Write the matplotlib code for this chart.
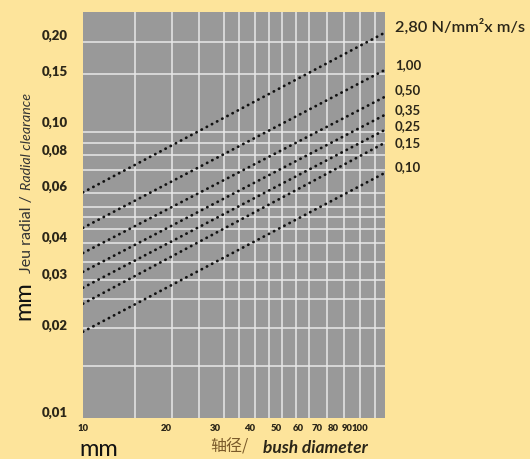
import matplotlib
matplotlib.use("Agg")
import matplotlib.pyplot as plt

# diameter (mm) at the two ends of each line
diam_ends = [10, 123]

# radial clearance (mm) read at each end, one pair per pv value
pv_labels = ["2,80 N/mm²x m/s", "1,00", "0,50", "0,35", "0,25", "0,15", "0,10"]
clear_left = [0.0571, 0.0431, 0.0353, 0.0304, 0.0268, 0.0236, 0.0189]
clear_right = [0.203, 0.151, 0.122, 0.1057, 0.0938, 0.0847, 0.0667]

# axis ticks
x_ticks = [10, 20, 30, 40, 50, 60, 70, 80, 90, 100]
x_ticklabels = ["10", "20", "30", "40", "50", "60", "70", "80", "90", "100"]
y_ticks = [0.01, 0.02, 0.03, 0.04, 0.06, 0.08, 0.10, 0.15, 0.20]
y_ticklabels = ["0,01", "0,02", "0,03", "0,04", "0,06", "0,08", "0,10", "0,15", "0,20"]

# white grid lines as drawn in the chart (not on the tick values)
x_grid = [15.4, 21.0, 26.3, 32.2, 36.7, 41.7, 46.8, 52.2, 58.6, 65.3, 75.9, 87.5, 100, 113.3]
y_grid = [0.0144, 0.0195, 0.0245, 0.0285, 0.0329, 0.0383, 0.0428, 0.0470, 0.0509,
          0.0569, 0.0683, 0.0769, 0.0846, 0.0924, 0.1464, 0.1888]

bg = "#fde49b"
panel = "#999999"
ink = "#2b2618"

plt.rcParams['font.family'] = ['Lato', 'DejaVu Sans']

W, H = 530, 459
fig = plt.figure(figsize=(W / 100, H / 100), dpi=100, facecolor=bg)
ax = fig.add_axes([83 / W, (H - 418) / H, (385 - 83) / W, (418 - 12) / H])
ax.set_facecolor(panel)
ax.set_xscale("log")
ax.set_yscale("log")
ax.set_xlim(10, 123)
ax.set_ylim(0.00953, 0.239)

for gx in x_grid:
    ax.axvline(gx, color="#e8e8e8", lw=1.1, zorder=1)
for gy in y_grid:
    ax.axhline(gy, color="#e8e8e8", lw=1.1, zorder=1)

for lo, hi in zip(clear_left, clear_right):
    ax.plot(diam_ends, [lo, hi], color="#111111", lw=2.0,
            linestyle=(0, (0.1, 2.0)), dash_capstyle="round", zorder=3)

ax.minorticks_off()
ax.set_xticks(x_ticks)
ax.set_xticklabels(x_ticklabels, fontsize=6.8, fontweight="heavy", color=ink)
ax.set_yticks(y_ticks)
ax.set_yticklabels(y_ticklabels, fontsize=9.5, fontweight="heavy", color=ink)
ax.tick_params(axis="x", length=0, pad=4)
ax.tick_params(axis="y", length=0, pad=11)
for s in ax.spines.values():
    s.set_visible(False)

# line labels on the right
label_y = [27, 65, 90, 110, 126, 143, 167]
for i, (txt, py) in enumerate(zip(pv_labels, label_y)):
    fig.text(395 / W, 1 - py / H, txt, ha="left", va="center",
             fontsize=11.8 if i == 0 else 9.5, fontweight="semibold" if i == 0 else "bold",
             color=ink)

# y axis title
fig.text(31 / W, 1 - 273 / H, "Jeu radial / ", rotation=90, rotation_mode="anchor",
         ha="left", va="baseline", fontsize=11.5, color="#333333")
fig.text(31 / W, 1 - 190 / H, "Radial clearance", rotation=90, rotation_mode="anchor",
         ha="left", va="baseline", fontsize=10.3, color="#333333", style="italic")
fig.text(24 / W, 1 - 301 / H, "mm", rotation=90, ha="center", va="center",
         fontsize=17, color="#111111")

# x axis title
fig.text(99 / W, 1 - 450 / H, "mm", ha="center", va="center", fontsize=17, color="#111111")
fig.text(229 / W, 1 - 447 / H, "轴径/", ha="center", va="center", fontsize=11.5,
         color="#7a5a2a", family=['Noto Sans CJK SC', 'DejaVu Sans'])
fig.text(263 / W, 1 - 448 / H, "bush diameter", ha="left", va="center", fontsize=12.5,
         color=ink, style="italic", fontweight="bold")

fig.savefig("out.png", dpi=100, facecolor=bg)
